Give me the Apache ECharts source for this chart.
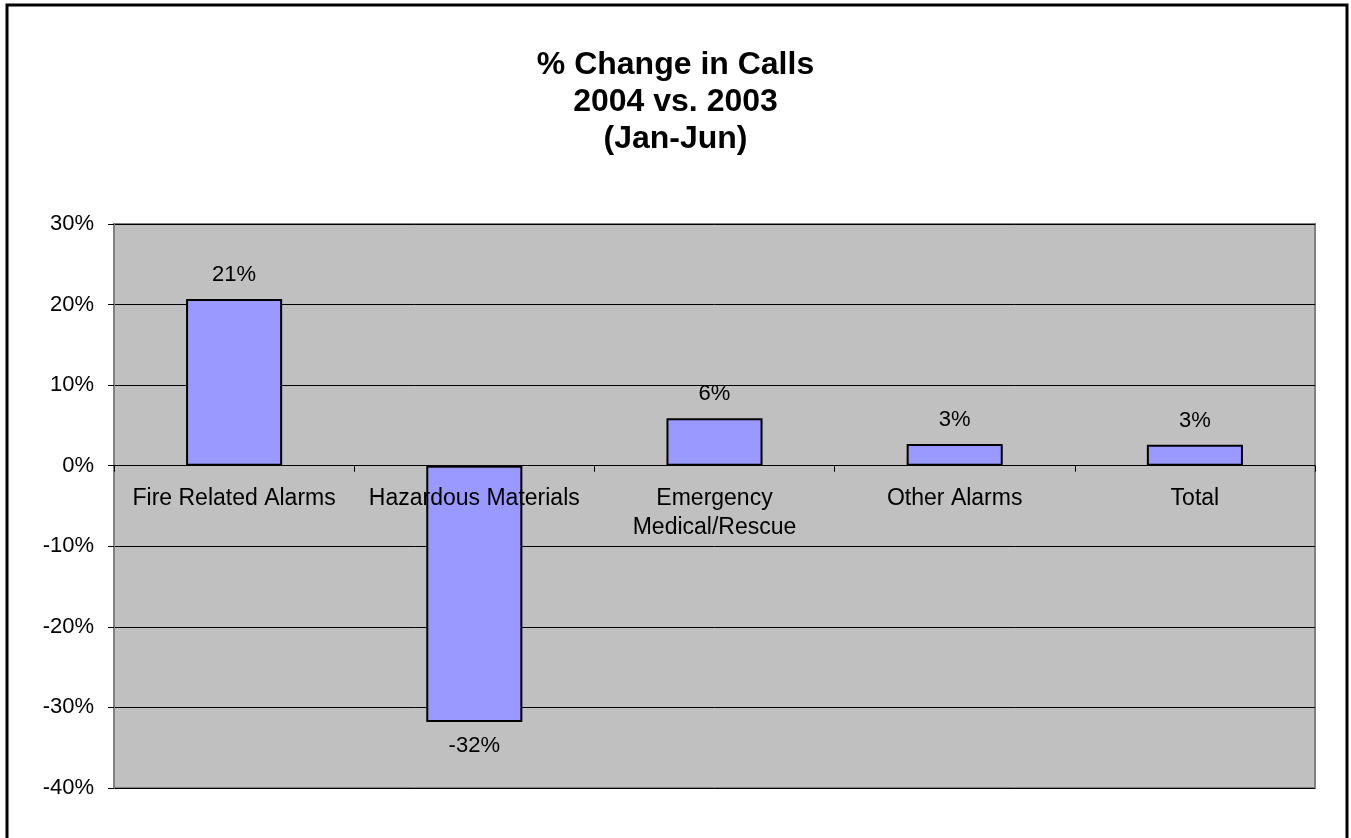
<!DOCTYPE html>
<html>
<head>
<meta charset="utf-8">
<script src="https://cdn.jsdelivr.net/npm/echarts@6/dist/echarts.min.js"></script>
<style>
  html, body { margin: 0; padding: 0; background: #fff; }
  #main { width: 1351px; height: 838px; }
</style>
</head>
<body>
<div id="main"></div>
<script>
var categories = ["Fire Related Alarms", "Hazardous Materials", "Emergency\nMedical/Rescue", "Other Alarms", "Total"];
var pctChange = [20.7, -31.8, 5.9, 2.7, 2.6];
var pctLabels = ["21%", "-32%", "6%", "3%", "3%"];
var yTicks = { min: -40, max: 30, step: 10 };

var font = "Arial, 'Liberation Sans', sans-serif";

var gridTop = 224, gridBottom = 50;
var plotH = 838 - gridTop - gridBottom;
// category axis sits on the 0% line, labels with it
var zeroOffset = -plotH * (0 - yTicks.min) / (yTicks.max - yTicks.min);

var myChart = echarts.init(document.getElementById("main"));

// negative bar gets its label underneath
var barData = pctChange.map(function (v, i) {
    return {
        value: v,
        label: { position: v < 0 ? "bottom" : "top", formatter: pctLabels[i] }
    };
});

var option = {
    backgroundColor: "#fff",
    animation: false,
    title: {
        text: "% Change in Calls\n2004 vs. 2003\n(Jan-Jun)",
        left: "center",
        top: 42,
        textStyle: {
            fontFamily: font,
            fontSize: 32,
            fontWeight: "bold",
            color: "#000",
            lineHeight: 37
        }
    },
    graphic: [{
        type: "rect",
        shape: { x: 7, y: 5, width: 1340, height: 900 },
        style: { fill: "none", stroke: "#000", lineWidth: 3 },
        silent: true
    }],
    grid: {
        left: 114,
        right: 36,
        top: gridTop,
        bottom: gridBottom,
        outerBoundsMode: "none",
        containLabel: false,
        show: true,
        backgroundColor: "#C0C0C0",
        borderColor: "#808080",
        borderWidth: 2
    },
    xAxis: {
        type: "category",
        data: categories,
        offset: zeroOffset,
        z: 5,  // labels drawn over the bars like the original
        axisLine: { onZero: false, lineStyle: { color: "#000", width: 1 } },
        axisTick: { show: true, length: 6, lineStyle: { color: "#000" } },
        axisLabel: {
            margin: 18,
            interval: 0,
            fontFamily: font,
            fontSize: 23,
            lineHeight: 29,
            color: "#000"
        },
        splitLine: { show: false }
    },
    yAxis: {
        type: "value",
        min: yTicks.min,
        max: yTicks.max,
        interval: yTicks.step,
        axisLine: { show: true, lineStyle: { color: "#808080", width: 2 } },
        axisTick: { show: true, length: 6, lineStyle: { color: "#000" } },
        axisLabel: {
            formatter: "{value}%",
            margin: 20,
            fontFamily: font,
            fontSize: 22,
            color: "#000"
        },
        splitLine: { show: true, lineStyle: { color: "#000", width: 1 } }
    },
    series: [{
        type: "bar",
        data: barData,
        barWidth: "40%",
        itemStyle: {
            color: "#9999FF",
            borderColor: "#000",
            borderWidth: 2
        },
        label: {
            show: true,
            distance: 13,
            fontFamily: font,
            fontSize: 22,
            color: "#000"
        }
    }]
};

myChart.setOption(option);
</script>
</body>
</html>
